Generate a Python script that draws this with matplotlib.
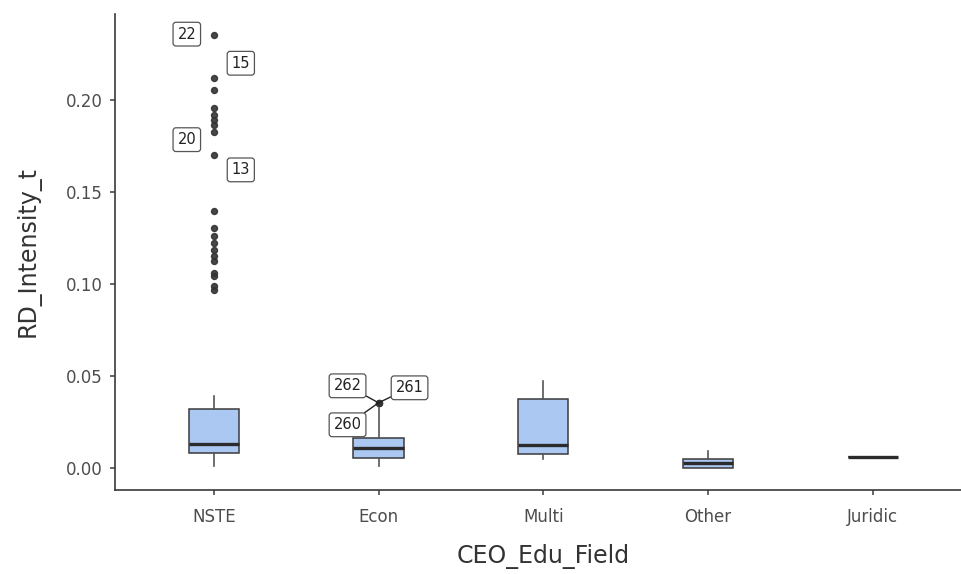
import matplotlib.pyplot as plt

plt.rcParams['font.family'] = ['DejaVu Sans']

# Boxplot summary per CEO education field
fields = ["NSTE", "Econ", "Multi", "Other", "Juridic"]
whis_lo = [0.0013, 0.0013, 0.0053, 0.0000, 0.0063]
q1 = [0.0085, 0.0058, 0.0076, 0.0004, 0.0063]
median = [0.0134, 0.0112, 0.0125, 0.0030, 0.0063]
q3 = [0.0320, 0.0166, 0.0378, 0.0053, 0.0063]
whis_hi = [0.0392, 0.0330, 0.0473, 0.0094, 0.0063]

# Outliers (values beyond 1.5 IQR)
nste_out = [0.2352, 0.2118, 0.2054, 0.1955, 0.1919, 0.1892, 0.1864, 0.1828,
            0.1702, 0.1395, 0.1306, 0.1259, 0.1225, 0.1187, 0.1151, 0.1124,
            0.1062, 0.1042, 0.0988, 0.0970]
econ_out = [0.0356, 0.0356, 0.0356]
outliers = [nste_out, econ_out, [], [], []]

# Labelled observations: (field index, value, row id, offset in pixels)
lab_field = [0, 0, 0, 0, 1, 1, 1]
lab_value = [0.2352, 0.2118, 0.1828, 0.1702, 0.0356, 0.0356, 0.0356]
lab_id = ["22", "15", "20", "13", "262", "261", "260"]
lab_offset = [(-27, 1), (27, 15), (-27, -8), (27, -15), (-31, 17), (31, 15), (-31, -22)]

stats = []
for i, f in enumerate(fields):
    stats.append({"label": f, "whislo": whis_lo[i], "q1": q1[i], "med": median[i],
                  "q3": q3[i], "whishi": whis_hi[i], "fliers": outliers[i]})

fig = plt.figure(figsize=(9.62, 5.74), dpi=100)
ax = fig.add_axes([0.1195, 0.1463, 0.8905, 0.8297])

pos = list(range(len(fields)))
ax.bxp(stats, positions=pos, widths=0.305, patch_artist=True,
       boxprops=dict(facecolor="#abc8f2", edgecolor="#3a3a3a", linewidth=1.1),
       medianprops=dict(color="#2b2b2b", linewidth=2.4),
       whiskerprops=dict(color="#555555", linewidth=1.2),
       capprops=dict(linewidth=0),
       flierprops=dict(marker="o", markersize=4.3, markerfacecolor="#333333",
                       markeredgecolor="#333333", alpha=0.9))

for i in range(len(lab_id)):
    dx, dy = lab_offset[i]
    far = lab_field[i] == 1
    ax.annotate(lab_id[i], xy=(pos[lab_field[i]], lab_value[i]),
                xytext=(dx, dy), textcoords="offset pixels",
                ha="center", va="center", fontsize=10.5, color="#222222",
                bbox=dict(boxstyle="round,pad=0.3,rounding_size=0.2",
                          facecolor="white", edgecolor="#555555", linewidth=0.9),
                arrowprops=dict(arrowstyle="-", color="#222222", lw=1.0,
                                shrinkA=0, shrinkB=0) if far else None)

ax.set_xlim(-0.6, len(fields) - 0.4)
ax.set_ylim(-0.01175, 0.2468)
ax.set_yticks([0.0, 0.05, 0.10, 0.15, 0.20])
ax.set_yticklabels(["0.00", "0.05", "0.10", "0.15", "0.20"])
ax.set_xticks(pos)
ax.set_xticklabels(fields)

for side in ["top", "right"]:
    ax.spines[side].set_visible(False)
for side in ["left", "bottom"]:
    ax.spines[side].set_color("#3a3a3a")
    ax.spines[side].set_linewidth(1.2)

ax.tick_params(axis="both", colors="#3a3a3a", length=3.6, width=1.1,
               labelsize=12, labelcolor="#4d4d4d")
ax.tick_params(axis="x", pad=9.5)
ax.tick_params(axis="y", pad=5.5)

ax.set_xlabel("CEO_Edu_Field", fontsize=17, color="#333333", labelpad=13)
ax.set_ylabel("RD_Intensity_t", fontsize=17, color="#333333", labelpad=18)

plt.savefig("out.png", dpi=100)
